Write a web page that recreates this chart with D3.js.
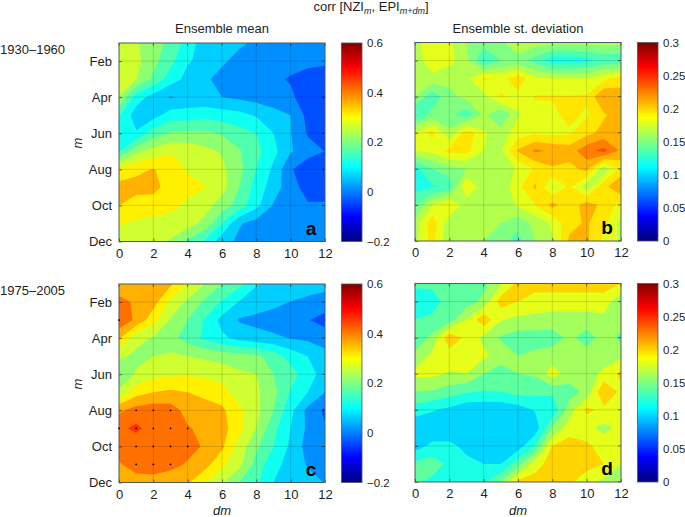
<!DOCTYPE html>
<html><head><meta charset="utf-8">
<script src="https://cdnjs.cloudflare.com/ajax/libs/d3/7.8.5/d3.min.js"></script>
<style>html,body{margin:0;padding:0;background:#fff}svg{display:block}text{font-family:"Liberation Sans",Arial,sans-serif;fill:#231f20}</style>
</head><body><svg id="c" width="685" height="517"></svg>
<script>
const monthLabels=["Jan","Feb","Mar","Apr","May","Jun","Jul","Aug","Sep","Oct","Nov","Dec"];
const dmTicks=[0,2,4,6,8,10,12];
const monthTicks=[2,4,6,8,10,12];
const meanTicks=[-0.2,0,0.2,0.4,0.6];
const stdTicks=[0,0.05,0.1,0.15,0.2,0.25,0.3];
const panelA=[
[.29,.255,.225,.185,.13,.07,.065,.055,.045,.04,.04,.04,.04],
[.29,.265,.215,.165,.105,.085,.055,.04,.03,.025,.02,.012,.008],
[.31,.252,.19,.125,.085,.055,.04,.03,.02,.01,-.005,-.018,-.023],
[.25,.125,.08,.045,.062,.06,.05,.04,.03,.02,.01,-.03,-.052],
[.155,.075,.08,.125,.125,.135,.125,.115,.095,.07,.05,-.015,-.03],
[.11,.105,.175,.205,.21,.21,.195,.17,.15,.1,.052,-.005,-.02],
[.15,.235,.27,.295,.285,.265,.245,.205,.165,.115,.055,.02,-.001],
[.31,.34,.352,.335,.295,.285,.262,.215,.15,.09,.005,-.03,-.03],
[.37,.365,.365,.33,.315,.302,.27,.2,.13,.075,.02,-.02,-.02],
[.35,.33,.325,.315,.29,.27,.225,.18,.115,.045,.02,.005,.005],
[.305,.292,.285,.28,.27,.235,.15,.055,.03,.025,.02,.02,.02],
[.28,.27,.265,.245,.19,.14,.07,.04,.03,.025,.02,.02,.02]];
const panelB=[
[.175,.19,.183,.165,.158,.16,.183,.172,.17,.17,.17,.17,.17],
[.17,.192,.185,.17,.132,.15,.155,.145,.125,.125,.13,.14,.137],
[.168,.175,.17,.177,.198,.19,.205,.182,.18,.18,.18,.19,.205],
[.165,.14,.16,.17,.175,.197,.19,.196,.196,.196,.197,.226,.215],
[.135,.155,.155,.14,.168,.15,.178,.19,.192,.199,.193,.208,.218],
[.18,.2,.168,.205,.182,.172,.188,.192,.19,.193,.205,.215,.222],
[.18,.185,.2,.2,.18,.178,.212,.228,.222,.218,.235,.245,.222],
[.13,.15,.16,.165,.17,.17,.182,.197,.208,.205,.215,.17,.2],
[.13,.133,.138,.197,.17,.17,.19,.213,.178,.198,.172,.205,.225],
[.148,.18,.197,.17,.168,.17,.182,.195,.215,.2,.218,.205,.19],
[.17,.205,.17,.17,.165,.165,.155,.17,.183,.205,.212,.2,.175],
[.175,.2,.168,.168,.165,.155,.145,.165,.178,.213,.213,.19,.178]];
const panelC=[
[.38,.375,.37,.36,.30,.25,.2,.165,.103,.09,.08,.07,.065],
[.41,.395,.37,.29,.24,.19,.145,.097,.08,.065,.049,.04,.03],
[.44,.39,.32,.245,.2,.145,.085,.045,.035,.025,.015,.003,-.02],
[.355,.265,.245,.215,.18,.14,.11,.085,.07,.06,.048,.04,.03],
[.26,.24,.25,.26,.25,.24,.23,.22,.21,.18,.13,.1,.065],
[.21,.255,.285,.29,.295,.29,.28,.26,.25,.2,.17,.125,.075],
[.26,.33,.35,.36,.35,.335,.32,.275,.26,.215,.145,.1,.05],
[.39,.42,.43,.425,.38,.375,.36,.31,.265,.2,.115,.035,-.01],
[.44,.46,.43,.42,.405,.385,.37,.315,.25,.165,.1,.04,.005],
[.42,.42,.42,.42,.415,.395,.36,.28,.21,.15,.09,.03,.02],
[.395,.42,.425,.415,.395,.37,.31,.265,.18,.115,.083,.045,.04],
[.36,.38,.38,.37,.355,.305,.255,.2,.16,.1,.085,.07,.048]];
const panelD=[
[.145,.145,.15,.15,.155,.178,.205,.21,.21,.21,.21,.21,.2],
[.125,.13,.15,.15,.165,.21,.2,.19,.19,.19,.19,.19,.165],
[.14,.145,.15,.18,.215,.182,.175,.175,.172,.172,.172,.175,.17],
[.145,.165,.215,.195,.175,.158,.15,.15,.15,.165,.15,.17,.155],
[.165,.185,.19,.19,.185,.17,.16,.165,.17,.17,.17,.17,.175],
[.185,.185,.178,.18,.16,.15,.16,.163,.19,.17,.17,.185,.205],
[.16,.158,.15,.142,.139,.14,.148,.145,.145,.152,.165,.22,.195],
[.13,.122,.115,.105,.105,.105,.11,.122,.125,.17,.205,.195,.185],
[.105,.105,.105,.105,.105,.105,.105,.108,.16,.19,.185,.175,.185],
[.11,.125,.125,.115,.11,.105,.11,.14,.2,.21,.205,.19,.185],
[.145,.15,.135,.125,.12,.12,.15,.19,.21,.21,.21,.2,.18],
[.145,.135,.125,.13,.135,.16,.205,.21,.21,.205,.185,.175,.17]];
const stippleDm=[1,2,3,0,1,2,3,4,1,2,3,4,1,2,3];
const stippleM=[8,8,8,9,9,9,9,9,10,10,10,10,11,11,11];
const extraStippleDm=[0];
const extraStippleM=[3];

const meanLevels=d3.range(-0.2,0.5751,0.05);
const stdLevelsB=d3.range(0,0.2851,0.015);
const stdLevelsD=d3.range(0,0.2801,0.02);
const clamp01=v=>Math.max(0,Math.min(1,v));
const jet=t=>`rgb(${Math.round(255*clamp01(Math.min(4*t-1.5,-4*t+4.5)))},${Math.round(255*clamp01(Math.min(4*t-0.5,-4*t+3.5)))},${Math.round(255*clamp01(Math.min(4*t+0.5,-4*t+2.5)))})`;

const svg=d3.select("#c");
const defs=svg.append("defs");
const W=206,H=198.5,BW=20.5;
function panel(o){
  const g=svg.append("g").attr("transform",`translate(${o.x},${o.y})`);
  const xs=d3.scaleLinear().domain([0,12]).range([0,W]);
  const ys=d3.scaleLinear().domain([1,12]).range([0,H]);
  const cl=(v,a,b)=>Math.max(a,Math.min(b,v));
  const path=d3.geoPath(d3.geoTransform({point(x,y){this.stream.point(xs(cl(x-0.5,0,12)),ys(cl(y-0.5,0,11)+1));}}));
  const flat=o.data.flat();
  const col=v=>jet((v+o.off-o.lo)/(o.hi-o.lo));
  g.append("rect").attr("width",W).attr("height",H).attr("fill",col(o.levels[0]));
  const cs=d3.contours().size([13,12]).thresholds(o.levels)(flat);
  g.selectAll("path.band").data(cs).join("path").attr("class","band").attr("d",path).attr("fill",d=>col(d.value));
  const grid=g.append("g").attr("stroke","#000").attr("stroke-opacity",.16).attr("stroke-width",.9);
  dmTicks.slice(1,-1).forEach(d=>grid.append("line").attr("x1",xs(d)).attr("x2",xs(d)).attr("y2",H));
  monthTicks.slice(0,-1).forEach(d=>grid.append("line").attr("y1",ys(d)).attr("y2",ys(d)).attr("x2",W));
  const ax=g.append("g").attr("transform",`translate(0,${H})`).call(d3.axisBottom(xs).tickValues(dmTicks).tickSizeInner(-3).tickSizeOuter(0).tickPadding(7));
  const ay=g.append("g").call(d3.axisLeft(ys).tickValues(monthTicks).tickFormat(m=>o.labels?monthLabels[m-1]:"").tickSizeInner(-3).tickSizeOuter(0).tickPadding(7));
  [ax,ay].forEach(a=>{a.selectAll("text").attr("font-size",13).attr("fill","#231f20").style("font-family","Liberation Sans");a.select(".domain").remove();a.selectAll("line").attr("stroke","#000").attr("stroke-opacity",.65).attr("stroke-width",.8);});
  g.append("g").selectAll("line").data(dmTicks).join("line").attr("x1",xs).attr("x2",xs).attr("y2",3).attr("stroke","#000").attr("stroke-opacity",.65).attr("stroke-width",.8);
  g.append("g").selectAll("line").data(monthTicks).join("line").attr("x1",W).attr("x2",W-3).attr("y1",ys).attr("y2",ys).attr("stroke","#000").attr("stroke-opacity",.65).attr("stroke-width",.8);
  g.append("rect").attr("width",W).attr("height",H).attr("fill","none").attr("stroke","#4a5a60").attr("stroke-width",1);
  if(o.stip){
    g.append("g").selectAll("circle").data(d3.range(o.stip[0].length)).join("circle").attr("cx",i=>xs(o.stip[0][i])).attr("cy",i=>ys(o.stip[1][i])).attr("r",.9).attr("fill","#000");
    g.append("g").selectAll("circle").data(extraStippleDm).join("circle").attr("cx",d=>xs(d)).attr("cy",(d,i)=>ys(extraStippleM[i])).attr("r",.9).attr("fill","#000");
  }
  g.append("text").attr("x",W-14).attr("y",H-7).attr("font-size",19).attr("font-weight","bold").attr("text-anchor","middle").style("fill","#000").text(o.tag);
  const id="g"+o.tag;
  const lg=defs.append("linearGradient").attr("id",id).attr("x1",0).attr("x2",0).attr("y1",1).attr("y2",0);
  d3.range(0,1.0001,1/32).forEach(t=>lg.append("stop").attr("offset",t).attr("stop-color",jet(t)));
  const bx=W+16.5;
  g.append("rect").attr("x",bx).attr("width",BW).attr("height",H).attr("fill",`url(#${id})`).attr("stroke","#555").attr("stroke-width",.8);
  const bs=d3.scaleLinear().domain([o.lo,o.hi]).range([H,0]);
  const ac=g.append("g").attr("transform",`translate(${bx+BW},0)`).call(d3.axisRight(bs).tickValues(o.ticks).tickFormat(o.fmt).tickSize(0).tickPadding(5));
  ac.select(".domain").remove();
  ac.selectAll("text").attr("font-size",11.5).attr("fill","#231f20").style("font-family","Liberation Sans");
}
const fmtMean=v=>v===0?"0":(v<0?"\u2212":"")+Math.abs(v);
const fmtStd=v=>v===0?"0":String(v);
panel({x:119,y:43,data:panelA,levels:meanLevels,lo:-0.2,hi:0.6,off:0.012,tag:"a",labels:true,ticks:meanTicks,fmt:fmtMean});
panel({x:415,y:42.5,data:panelB,levels:stdLevelsB,lo:0,hi:0.3,off:0,tag:"b",labels:false,ticks:stdTicks,fmt:fmtStd});
panel({x:119,y:284,data:panelC,levels:meanLevels,lo:-0.2,hi:0.6,off:0.012,tag:"c",labels:true,ticks:meanTicks,fmt:fmtMean,stip:[stippleDm,stippleM]});
panel({x:415,y:283.5,data:panelD,levels:stdLevelsD,lo:0,hi:0.3,off:0,tag:"d",labels:false,ticks:stdTicks,fmt:fmtStd});

const txt=(x,y,s,a="middle",fs=13)=>svg.append("text").attr("x",x).attr("y",y).attr("text-anchor",a).attr("font-size",fs).text(s);
txt(222,33,"Ensemble mean");
txt(518,33,"Ensemble st. deviation");
txt(0,54,"1930\u20131960","start");
txt(0,295,"1975\u20132005","start");
txt(222,514.5,"dm").style("font-style","italic");
txt(518,514.5,"dm").style("font-style","italic");
[143,384].forEach(y=>svg.append("text").attr("transform",`translate(82,${y}) rotate(-90)`).attr("text-anchor","middle").attr("font-size",13).style("font-style","italic").text("m"));
const t=svg.append("text").attr("x",371).attr("y",11).attr("text-anchor","middle").attr("font-size",13);
t.append("tspan").text("corr [NZI");
t.append("tspan").attr("dy",3).attr("font-size",9).style("font-style","italic").text("m");
t.append("tspan").attr("dy",-3).text(", EPI");
t.append("tspan").attr("dy",3).attr("font-size",9).style("font-style","italic").text("m+dm");
t.append("tspan").attr("dy",-3).text("]");
</script></body></html>
